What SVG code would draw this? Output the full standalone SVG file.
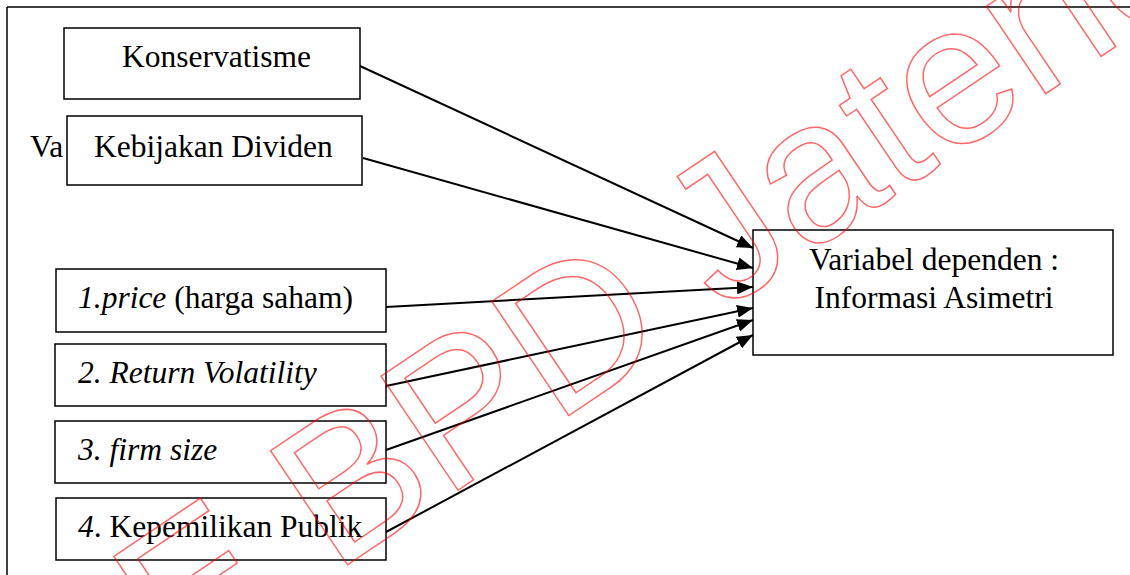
<svg xmlns="http://www.w3.org/2000/svg" width="1130" height="575" viewBox="0 0 1130 575">
<style>
.box{fill:#fff;stroke:#000;stroke-width:1.5}
.t{font-family:"Liberation Serif","Times New Roman",serif;font-size:31.5px;fill:#000}
.i{font-style:italic}
.conn line{stroke:#000;stroke-width:2;marker-end:url(#ah)}
.wm{font-family:"Liberation Sans",Arial,sans-serif;font-size:200px;fill:none;stroke:#ff0000;stroke-opacity:0.6;stroke-width:1.5}
</style>
<defs>
<marker id="ah" viewBox="0 0 16 13" refX="16" refY="6.5" markerWidth="16" markerHeight="13" markerUnits="userSpaceOnUse" orient="auto">
<path d="M0,0 L16,6.5 L0,13 z" fill="#000"/>
</marker>
</defs>
<rect width="1130" height="575" fill="#fff"/>
<g id="frame" fill="none" stroke="#000" stroke-width="1.5">
<line x1="7" y1="7" x2="1130" y2="7"/>
<line x1="7" y1="7" x2="7" y2="575"/>
</g>
<text class="t" x="30" y="157">Va</text>
<g id="konservatisme">
<rect class="box" x="64" y="28" width="296" height="71"/>
<text class="t" x="122" y="67">Konservatisme</text>
</g>
<g id="kebijakan-dividen">
<rect class="box" x="67" y="116" width="295" height="69"/>
<text class="t" x="94" y="157">Kebijakan Dividen</text>
</g>
<g id="price">
<rect class="box" x="56" y="269" width="330" height="63"/>
<text class="t" x="78" y="308"><tspan class="i">1.price</tspan> (harga saham)</text>
</g>
<g id="return-volatility">
<rect class="box" x="55" y="344" width="331" height="62"/>
<text class="t i" x="78" y="383">2. Return Volatility</text>
</g>
<g id="firm-size">
<rect class="box" x="55" y="421" width="331" height="62"/>
<text class="t i" x="78" y="460">3. firm size</text>
</g>
<g id="kepemilikan-publik">
<rect class="box" x="56" y="498" width="330" height="62"/>
<text class="t" x="78" y="537"><tspan class="i">4</tspan>. Kepemilikan Publik</text>
</g>
<g id="informasi-asimetri">
<rect class="box" x="753" y="230" width="360" height="125"/>
<text class="t" x="934" y="270" text-anchor="middle">Variabel dependen :</text>
<text class="t" x="934" y="308" text-anchor="middle">Informasi Asimetri</text>
</g>
<g id="connectors" class="conn">
<line x1="360" y1="66" x2="753" y2="248"/>
<line x1="363" y1="158" x2="753" y2="268"/>
<line x1="386" y1="307" x2="753" y2="287"/>
<line x1="386" y1="386" x2="753" y2="308"/>
<line x1="386" y1="450" x2="753" y2="320"/>
<line x1="386" y1="532" x2="753" y2="335"/>
</g>
<g id="watermark" transform="translate(334,574) rotate(-34)">
<text class="wm" x="-189" y="0">E BPD Jateng</text>
</g>
</svg>
